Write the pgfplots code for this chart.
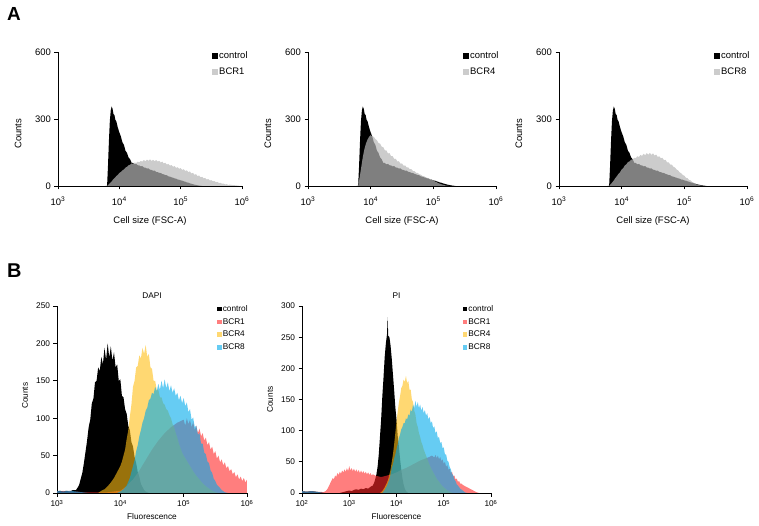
\documentclass[border=0pt]{standalone}
\usepackage{pgfplots}
\pgfplotsset{compat=1.18}
\usepackage{pgfplotstable}
\usepackage{fontspec}
\setmainfont{Liberation Sans}

\definecolor{bcrgray}{rgb}{0.714,0.714,0.714}
\definecolor{bred}{RGB}{255,40,40}
\definecolor{byellow}{RGB}{255,190,20}
\definecolor{bcyan}{RGB}{0,170,235}

% ---------------- FSC-A (top row) ----------------
\pgfplotstableread{
x y
3.775 0
3.800 0
3.815 90
3.830 200
3.845 290
3.860 338
3.875 356
3.890 345
3.905 322
3.920 318
3.935 296
3.950 290
3.975 262
4.000 240
4.025 222
4.050 196
4.075 184
4.100 158
4.125 148
4.150 128
4.175 120
4.200 104
4.225 103
4.250 97
4.275 99
4.300 93
4.325 92
4.350 88
4.375 89
4.400 83
4.425 82
4.450 78
4.475 79
4.500 73
4.525 72
4.550 68
4.575 69
4.600 63
4.625 62
4.650 59
4.675 58
4.700 54
4.725 52
4.750 49
4.775 48
4.800 43
4.825 42
4.850 39
4.875 37
4.900 34
4.925 33
4.950 29
4.975 28
5.000 25
5.025 24
5.050 21
5.075 19
5.100 16
5.125 15
5.150 12
5.175 10
5.200 8
5.225 6
5.250 5
5.275 3
5.300 2
5.350 0
}\fscctrl

\pgfplotstableread{
x y
3.800 0
3.825 6
3.850 14
3.875 20
3.900 30
3.925 36
3.950 44
3.975 50
4.000 58
4.025 63
4.050 70
4.075 74
4.100 82
4.125 86
4.150 93
4.175 95
4.200 101
4.225 99
4.250 105
4.275 103
4.300 109
4.325 106
4.350 112
4.375 109
4.400 116
4.425 111
4.450 118
4.475 113
4.500 119
4.525 112
4.550 117
4.575 111
4.600 116
4.625 109
4.650 113
4.675 105
4.700 109
4.725 101
4.750 104
4.775 96
4.800 99
4.825 91
4.850 94
4.875 86
4.900 89
4.925 81
4.950 84
4.975 77
5.000 80
5.025 72
5.050 75
5.075 67
5.100 70
5.125 62
5.150 65
5.175 56
5.200 59
5.225 50
5.250 53
5.275 44
5.300 47
5.325 39
5.350 41
5.375 34
5.400 36
5.425 29
5.450 31
5.475 25
5.500 26
5.525 21
5.550 22
5.575 17
5.600 18
5.625 13
5.650 14
5.675 10
5.700 11
5.725 7
5.750 8
5.775 5
5.800 6
5.850 4
5.900 3
5.950 1
6.000 0
}\fscA

\pgfplotstableread{
x y
3.800 0
3.825 40
3.850 85
3.875 130
3.900 165
3.925 190
3.950 208
3.975 220
4.000 228
4.025 222
4.050 220
4.075 210
4.100 205
4.125 192
4.150 190
4.175 176
4.200 174
4.225 160
4.250 160
4.275 146
4.300 147
4.325 133
4.350 134
4.375 121
4.400 122
4.425 110
4.450 111
4.475 100
4.500 101
4.525 91
4.550 92
4.575 83
4.600 83
4.625 75
4.650 75
4.675 67
4.700 67
4.725 59
4.750 59
4.775 52
4.800 51
4.825 45
4.850 44
4.875 39
4.900 37
4.925 33
4.950 31
4.975 27
5.000 25
5.025 20
5.050 18
5.075 13
5.100 11
5.125 8
5.150 6
5.175 4
5.200 2
5.250 0
}\fscB

\pgfplotstableread{
x y
3.800 0
3.825 8
3.850 16
3.875 25
3.900 36
3.925 44
3.950 55
3.975 62
4.000 74
4.025 80
4.050 92
4.075 97
4.100 107
4.125 110
4.150 118
4.175 119
4.200 126
4.225 125
4.250 133
4.275 130
4.300 139
4.325 135
4.350 144
4.375 138
4.400 147
4.425 140
4.450 148
4.475 139
4.500 146
4.525 136
4.550 141
4.575 130
4.600 133
4.625 124
4.650 126
4.675 116
4.700 117
4.725 106
4.750 106
4.775 96
4.800 96
4.825 86
4.850 83
4.875 74
4.900 70
4.925 61
4.950 57
4.975 49
5.000 46
5.025 37
5.050 35
5.075 27
5.100 25
5.125 17
5.150 15
5.175 9
5.200 7
5.250 3
5.300 0
}\fscC

% ---------------- DAPI ----------------
\pgfplotstableread{
x y
3.000 2
3.050 3
3.100 2
3.150 3
3.200 2
3.250 4
3.300 4
3.325 7
3.350 11
3.375 19
3.400 27
3.425 40
3.450 55
3.475 70
3.500 88
3.525 98
3.550 120
3.575 126
3.600 148
3.625 150
3.650 168
3.675 163
3.700 182
3.725 172
3.750 194
3.775 178
3.800 200
3.825 181
3.850 196
3.875 177
3.900 188
3.925 168
3.950 172
3.975 150
4.000 152
4.025 130
4.050 128
4.075 112
4.100 106
4.125 90
4.150 84
4.175 68
4.200 62
4.225 48
4.250 40
4.275 28
4.300 22
4.325 12
4.350 8
4.375 4
4.400 2
4.450 0
}\dapictrl

\pgfplotstableread{
x y
3.000 3
3.050 2
3.100 3
3.150 2
3.200 3
3.250 2
3.300 2
3.400 1
3.600 1
3.800 1
4.000 3
4.050 6
4.100 9
4.150 14
4.200 18
4.250 24
4.300 30
4.350 37
4.400 44
4.450 51
4.500 58
4.550 64
4.600 70
4.650 75
4.700 80
4.750 84
4.800 88
4.850 91
4.900 94
4.950 96
5.000 98
5.025 90
5.050 100
5.075 92
5.100 98
5.125 88
5.150 95
5.175 84
5.200 90
5.225 80
5.250 86
5.275 76
5.300 80
5.325 70
5.350 74
5.375 64
5.400 68
5.425 58
5.450 62
5.475 52
5.500 56
5.525 46
5.550 50
5.575 41
5.600 45
5.625 37
5.650 41
5.675 33
5.700 36
5.725 29
5.750 32
5.775 25
5.800 28
5.825 21
5.850 25
5.875 18
5.900 22
5.925 16
5.950 20
5.975 14
6.000 18
}\dapiA

\pgfplotstableread{
x y
3.650 0
3.700 3
3.750 5
3.800 9
3.850 14
3.900 20
3.950 28
4.000 36
4.025 42
4.050 50
4.075 58
4.100 72
4.125 84
4.150 102
4.175 118
4.200 142
4.225 150
4.250 168
4.275 170
4.300 184
4.325 180
4.350 194
4.375 186
4.400 198
4.425 182
4.450 186
4.475 168
4.500 166
4.525 150
4.550 150
4.575 138
4.600 138
4.625 128
4.650 128
4.675 120
4.700 118
4.725 112
4.750 110
4.775 104
4.800 100
4.825 92
4.850 88
4.875 80
4.900 74
4.925 66
4.950 60
4.975 54
5.000 50
5.050 43
5.100 36
5.150 29
5.200 23
5.250 18
5.300 13
5.350 9
5.400 6
5.450 3
5.500 1
5.550 0
}\dapiB

\pgfplotstableread{
x y
3.000 3
3.100 2
3.200 3
3.300 2
3.400 1
3.500 0
3.950 0
4.000 2
4.050 5
4.100 10
4.150 20
4.200 36
4.225 44
4.250 56
4.275 64
4.300 76
4.325 84
4.350 94
4.375 100
4.400 110
4.425 114
4.450 124
4.475 126
4.500 134
4.525 132
4.550 142
4.575 136
4.600 146
4.625 138
4.650 150
4.675 140
4.700 152
4.725 140
4.750 148
4.775 136
4.800 144
4.825 134
4.850 140
4.875 130
4.900 134
4.925 124
4.950 130
4.975 120
5.000 127
5.025 116
5.050 121
5.075 108
5.100 112
5.125 98
5.150 101
5.175 88
5.200 90
5.225 78
5.250 80
5.275 66
5.300 66
5.325 54
5.350 52
5.375 42
5.400 40
5.425 30
5.450 27
5.475 19
5.500 16
5.525 11
5.550 9
5.600 4
5.650 1
5.700 0
}\dapiC

% ---------------- PI ----------------
\pgfplotstableread{
x y
2.000 3
2.100 2
2.200 3
2.300 2
2.400 1
2.500 0
2.800 0
2.900 2
2.950 3
3.000 4
3.050 3
3.100 5
3.150 6
3.200 5
3.250 7
3.300 6
3.350 8
3.400 7
3.450 10
3.500 12
3.525 16
3.550 22
3.575 30
3.600 42
3.625 62
3.650 90
3.675 118
3.700 155
3.725 185
3.750 218
3.775 240
3.800 255
3.812 282
3.825 252
3.850 250
3.875 236
3.900 215
3.925 190
3.950 165
3.975 138
4.000 118
4.025 92
4.050 75
4.075 55
4.100 38
4.125 24
4.150 14
4.175 7
4.200 3
4.250 0
}\pictrl

\pgfplotstableread{
x y
2.000 3
2.100 2
2.200 3
2.300 2
2.400 2
2.450 1
2.500 3
2.525 5
2.550 8
2.575 12
2.600 16
2.625 20
2.650 24
2.675 22
2.700 28
2.725 26
2.750 32
2.775 29
2.800 34
2.825 31
2.850 36
2.875 33
2.900 38
2.925 34
2.950 40
2.975 35
3.000 43
3.025 36
3.050 40
3.075 35
3.100 39
3.125 34
3.150 38
3.175 33
3.200 37
3.225 32
3.250 36
3.275 32
3.300 35
3.325 31
3.350 34
3.375 30
3.400 33
3.425 29
3.450 32
3.475 28
3.500 30
3.550 28
3.600 27
3.650 26
3.700 26
3.800 28
3.900 30
4.000 33
4.100 37
4.200 40
4.300 44
4.400 48
4.500 52
4.600 55
4.700 58
4.750 60
4.800 57
4.825 61
4.850 56
4.875 60
4.900 54
4.925 58
4.950 51
4.975 54
5.000 47
5.025 50
5.050 42
5.075 45
5.100 37
5.125 39
5.150 32
5.175 34
5.200 27
5.225 28
5.250 22
5.275 23
5.300 18
5.325 19
5.350 15
5.375 15
5.400 13
5.425 12
5.450 11
5.475 10
5.500 9
5.550 7
5.600 5
5.650 3
5.700 1
5.750 0
}\piA

\pgfplotstableread{
x y
3.650 0
3.700 3
3.750 9
3.800 17
3.825 22
3.850 30
3.875 38
3.900 50
3.925 62
3.950 78
3.975 96
4.000 115
4.025 130
4.050 145
4.075 155
4.100 168
4.125 172
4.150 182
4.175 178
4.200 188
4.225 176
4.250 180
4.275 166
4.300 166
4.325 150
4.350 146
4.375 132
4.400 126
4.425 112
4.450 106
4.475 96
4.500 90
4.525 82
4.550 77
4.575 70
4.600 65
4.650 55
4.700 45
4.750 37
4.800 30
4.850 23
4.900 18
4.950 13
5.000 9
5.050 6
5.100 3
5.150 1
5.200 0
}\piB

\pgfplotstableread{
x y
2.000 3
2.100 2
2.200 3
2.300 2
2.400 1
2.450 0
3.700 0
3.750 5
3.800 12
3.850 22
3.875 30
3.900 40
3.925 46
3.950 55
3.975 62
4.000 70
4.025 78
4.050 88
4.075 94
4.100 102
4.125 106
4.150 112
4.175 112
4.200 120
4.225 118
4.250 126
4.275 124
4.300 134
4.325 130
4.350 142
4.375 136
4.400 148
4.425 138
4.450 146
4.475 136
4.500 142
4.525 132
4.550 138
4.575 128
4.600 133
4.625 124
4.650 128
4.675 118
4.700 122
4.725 112
4.750 115
4.775 104
4.800 107
4.825 96
4.850 99
4.875 88
4.900 90
4.925 80
4.950 82
4.975 72
5.000 73
5.025 62
5.050 62
5.075 52
5.100 50
5.125 42
5.150 38
5.175 31
5.200 28
5.225 22
5.250 19
5.275 14
5.300 12
5.350 7
5.400 4
5.450 1
5.500 0
}\piC

\pgfplotsset{
  flowbase/.style={
    scale only axis,
    axis x line*=bottom, axis y line*=left,
    axis line style={line width=0.7bp, black},
    tick style={line width=0.7bp, black},
    tick align=outside, major tick length=3.5bp,
    ymin=0,
    /pgf/number format/assume math mode=true,
    legend cell align=left,
    anchor=south west,
  },
  topaxis/.style={
    flowbase,
    height=134bp,
    xmin=3, xmax=6, xtick={3,4,5,6},
    xticklabels={10\textsuperscript{3},10\textsuperscript{4},10\textsuperscript{5},10\textsuperscript{6}},
    ymax=600, ytick={0,300,600},
    tick label style={font=\fontsize{9.5}{11}\selectfont},
    xticklabel style={yshift=-4bp},
    label style={font=\fontsize{9.5}{11}\selectfont},
    xlabel={Cell size (FSC-A)}, ylabel={Counts},
    xlabel style={at={(axis description cs:0.5,-0.2836)}, anchor=base},
    legend style={draw=none, fill=none, inner sep=0pt, row sep=6bp,
      font=\fontsize{9.5}{11}\selectfont, anchor=north west,
      nodes={inner sep=1bp}},
    legend image code/.code={\fill[##1] (0bp,-3bp) rectangle (6bp,3bp);},
  },
  botaxis/.style={
    flowbase,
    height=187bp,
    tick label style={font=\fontsize{8.3}{10}\selectfont},
    label style={font=\fontsize{8.3}{10}\selectfont},
    title style={font=\fontsize{8.3}{10}\selectfont, at={(axis description cs:0.5,1)}, anchor=base, yshift=2bp},
    xlabel={Fluorescence}, ylabel={Counts},
    xlabel style={at={(axis description cs:0.5,-0.144)}, anchor=base},
    legend style={draw=none, fill=none, inner sep=0pt, row sep=3.5bp,
      font=\fontsize{8.3}{10}\selectfont, anchor=north west,
      nodes={inner sep=1bp}},
    legend image code/.code={\fill[##1] (0bp,-2.3bp) rectangle (4.6bp,2.3bp);},
  },
}

\begin{document}
\begin{tikzpicture}
\path[use as bounding box] (0,0) rectangle (759bp,526bp);

\node[anchor=base west, inner sep=0pt, font=\bfseries\fontsize{19}{19}\selectfont] at (7bp,505bp) {A};
\node[anchor=base west, inner sep=0pt, font=\bfseries\fontsize{20}{20}\selectfont] at (7bp,248bp) {B};

% ---- top 1 ----
\begin{axis}[topaxis, at={(58bp,340bp)}, width=184bp,
  ylabel style={at={(axis description cs:-0.217,0.39)}, anchor=center},
  legend style={at={(axis description cs:0.837,1.012)}}]
\addplot[fill=black, draw=none] table[x=x,y=y] {\fscctrl} \closedcycle;
\addplot[fill=bcrgray, fill opacity=0.7, draw=none] table[x=x,y=y] {\fscA} \closedcycle;
\legend{control, BCR1}
\end{axis}

% ---- top 2 ----
\begin{axis}[topaxis, at={(308bp,340bp)}, width=188bp,
  ylabel style={at={(axis description cs:-0.213,0.39)}, anchor=center},
  legend style={at={(axis description cs:0.824,1.012)}}]
\addplot[fill=black, draw=none] table[x=x,y=y] {\fscctrl} \closedcycle;
\addplot[fill=bcrgray, fill opacity=0.7, draw=none] table[x=x,y=y] {\fscB} \closedcycle;
\legend{control, BCR4}
\end{axis}

% ---- top 3 ----
\begin{axis}[topaxis, at={(559bp,340bp)}, width=188bp,
  ylabel style={at={(axis description cs:-0.213,0.39)}, anchor=center},
  legend style={at={(axis description cs:0.824,1.012)}}]
\addplot[fill=black, draw=none] table[x=x,y=y] {\fscctrl} \closedcycle;
\addplot[fill=bcrgray, fill opacity=0.7, draw=none] table[x=x,y=y] {\fscC} \closedcycle;
\legend{control, BCR8}
\end{axis}

% ---- DAPI ----
\begin{axis}[botaxis, at={(57bp,33bp)}, width=190bp,
  title={DAPI},
  xmin=3, xmax=6, xtick={3,4,5,6},
  xticklabels={10\textsuperscript{3},10\textsuperscript{4},10\textsuperscript{5},10\textsuperscript{6}},
  ymax=250, ytick={0,50,100,150,200,250},
  ylabel style={at={(axis description cs:-0.168,0.52)}, anchor=center},
  legend style={at={(axis description cs:0.842,1.01)}}]
\addplot[fill=black, draw=none] table[x=x,y=y] {\dapictrl} \closedcycle;
\addplot[fill=bred, fill opacity=0.6, draw=none] table[x=x,y=y] {\dapiA} \closedcycle;
\addplot[fill=byellow, fill opacity=0.6, draw=none] table[x=x,y=y] {\dapiB} \closedcycle;
\addplot[fill=bcyan, fill opacity=0.6, draw=none] table[x=x,y=y] {\dapiC} \closedcycle;
\legend{control, BCR1, BCR4, BCR8}
\end{axis}

% ---- PI ----
\begin{axis}[botaxis, at={(302bp,33bp)}, width=189bp,
  title={PI},
  xmin=2, xmax=6, xtick={2,3,4,5,6},
  xticklabels={10\textsuperscript{2},10\textsuperscript{3},10\textsuperscript{4},10\textsuperscript{5},10\textsuperscript{6}},
  ymax=300, ytick={0,50,100,150,200,250,300},
  ylabel style={at={(axis description cs:-0.169,0.50)}, anchor=center},
  legend style={at={(axis description cs:0.85,1.01)}}]
\addplot[fill=black, draw=none] table[x=x,y=y] {\pictrl} \closedcycle;
\addplot[fill=bred, fill opacity=0.6, draw=none] table[x=x,y=y] {\piA} \closedcycle;
\addplot[fill=byellow, fill opacity=0.6, draw=none] table[x=x,y=y] {\piB} \closedcycle;
\addplot[fill=bcyan, fill opacity=0.6, draw=none] table[x=x,y=y] {\piC} \closedcycle;
\legend{control, BCR1, BCR4, BCR8}
\end{axis}
\end{tikzpicture}
\end{document}
